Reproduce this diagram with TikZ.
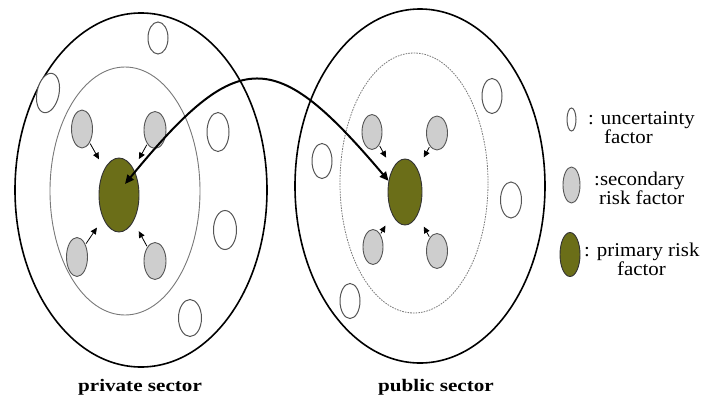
\documentclass[tikz,border=0pt]{standalone}
\usepackage{fontspec}
\setmainfont{Liberation Serif}
\newfontfamily\labfont[FakeStretch=1.2]{Liberation Serif}
\newfontfamily\keyfont[FakeStretch=1.07]{Liberation Serif}
\usetikzlibrary{shapes.geometric,arrows.meta}

\definecolor{primaryfill}{RGB}{107,110,24}
\definecolor{secondfill}{RGB}{206,206,206}
\definecolor{ovalline}{RGB}{85,85,85}
\definecolor{ringgray}{RGB}{120,120,120}

\tikzset{
  oval/.style 2 args={ellipse, inner sep=0pt, minimum width=#1, minimum height=#2},
  sector/.style={draw=black, line width=1.6pt},
  ringsolid/.style={draw=ringgray, line width=0.9pt},
  ringdash/.style={draw=ringgray, line width=0.8pt, dash pattern=on 1.6pt off 1.1pt},
  uncert/.style={draw=ovalline, line width=1pt, fill=white},
  second/.style={draw=ovalline, line width=0.9pt, fill=secondfill},
  primary/.style={draw=black!80, line width=0.9pt, fill=primaryfill},
  feed/.style={draw=black, line width=0.8pt, -{Triangle[length=6.5pt,width=6pt]},
               shorten <=1pt, shorten >=11pt},
  link/.style={draw=black, line width=2pt,
               {Triangle[length=9pt,width=8pt]}-{Triangle[length=9pt,width=8pt]}},
  sectorlabel/.style={font=\labfont\fontsize{17.6}{20}\selectfont\bfseries, inner sep=0pt},
  % the base anchor of a two-line legend entry sits on its second line
  legendtext/.style={font=\keyfont\fontsize{19.5}{17.5}\selectfont, inner sep=0pt,
                     align=left, anchor=base west}
}

\begin{document}
\begin{tikzpicture}[x=1pt,y=-1pt]
\useasboundingbox (0,0) rectangle (701,399);

% sector boundaries
\node[sector, oval={252pt}{354pt}] (privOuter) at (141,190) {};
\node[sector, oval={250pt}{354pt}] (publOuter) at (420,186) {};
\node[ringsolid, oval={150pt}{248pt}] (privInner) at (125,191) {};
\node[ringdash, oval={148pt}{260pt}] (publInner) at (414,183) {};

% uncertainty factors, private sector
\node[uncert, oval={20pt}{32pt}] (uA) at (158,38) {};
\node[uncert, oval={22pt}{40pt}, rotate=-12] (uB) at (48,93) {};
\node[uncert, oval={22pt}{39pt}] (uC) at (218,132) {};
\node[uncert, oval={23pt}{39pt}] (uD) at (225,230) {};
\node[uncert, oval={23pt}{37pt}] (uE) at (190,318) {};

% uncertainty factors, public sector
\node[uncert, oval={20pt}{35pt}] (uF) at (492,96) {};
\node[uncert, oval={20pt}{35pt}] (uG) at (322,161) {};
\node[uncert, oval={21pt}{36pt}] (uH) at (511,200) {};
\node[uncert, oval={20pt}{35pt}] (uI) at (350,301) {};

% private sector risk factors
\node[primary, oval={40pt}{74pt}] (pPriv) at (119,195) {};
\node[second, oval={21pt}{38pt}] (sA) at (82,129) {};
\node[second, oval={22pt}{37pt}] (sB) at (155,130) {};
\node[second, oval={21pt}{39pt}] (sC) at (77,257) {};
\node[second, oval={22pt}{37pt}] (sD) at (155,261) {};

% public sector risk factors
\node[primary, oval={34pt}{66pt}] (pPubl) at (405,192) {};
\node[second, oval={20pt}{35pt}] (sE) at (372,132) {};
\node[second, oval={21pt}{34pt}] (sF) at (437,133) {};
\node[second, oval={20pt}{35pt}] (sG) at (373,247) {};
\node[second, oval={21pt}{35pt}] (sH) at (437,251) {};

% secondary factors feeding the primary factor
\foreach \s in {sA,sB,sC,sD} \draw[feed] (\s) -- (pPriv);
\foreach \s in {sE,sF,sG,sH} \draw[feed, shorten >=13pt] (\s) -- (pPubl);

% link between the two primary factors
\coordinate (hitPriv) at (125,184);
\draw[link] (hitPriv) .. controls (239,45) and (275,47) .. (pPubl.146);

% sector names
\node[sectorlabel] (privName) at (140,387) {private sector};
\node[sectorlabel] (publName) at (436,387) {public sector};

% legend
\node[uncert, oval={9pt}{23pt}] (legU) at (571.5,119.5) {};
\node[second, oval={17pt}{36pt}] (legS) at (571.5,185) {};
\node[primary, oval={20pt}{44pt}] (legP) at (570,254.5) {};
\node[legendtext] (legUtext) at (588,143.5) {: uncertainty\\\hspace*{16pt}factor};
\node[legendtext] (legStext) at (594,204.5) {:secondary\\\hspace*{5pt}risk factor};
\node[legendtext] (legPtext) at (584,275) {: primary risk\\\hspace*{33pt}factor};
\end{tikzpicture}
\end{document}
